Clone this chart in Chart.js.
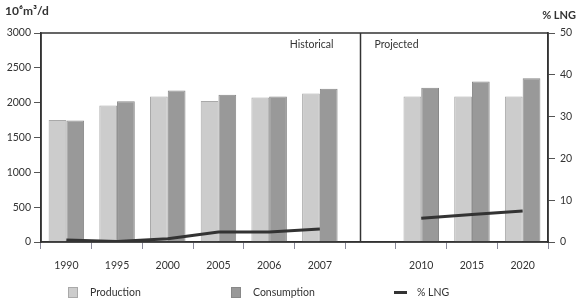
<!DOCTYPE html>
<html>
<head>
<meta charset="utf-8">
<script src="https://cdn.jsdelivr.net/npm/chart.js@4.4.1/dist/chart.umd.min.js"></script>
<style>
  body { margin: 0; background: #fff; }
  #wrap { position: relative; width: 580px; height: 306px; }
  #legend { position: absolute; left: 68px; top: 286px; display: flex; font: 10.5px Lato, sans-serif; color: #333; }
  #legend .item { width: 163px; display: flex; align-items: center; }
  #legend .sw { display: inline-block; margin-right: 12px; box-sizing: border-box; }
</style>
</head>
<body>
<div id="wrap">
  <canvas id="graphique" width="580" height="306"></canvas>
  <div id="legend"></div>
</div>
<script>
// --- data ---
const years = ["1990", "1995", "2000", "2005", "2006", "2007", "", "2010", "2015", "2020"];
const production = [1750, 1960, 2090, 2025, 2075, 2130, null, 2090, 2090, 2090];
const consumption = [1745, 2020, 2175, 2115, 2090, 2200, null, 2215, 2305, 2350];
const lngShare = [0.5, 0.1, 0.8, 2.4, 2.4, 3.1, null, 5.7, 6.6, 7.4];

const FONT = "Lato, sans-serif";
const INK = "#333";

// frame, divider and the loose texts
const framePlugin = {
  id: "frame",
  afterDraw(chart) {
    const { ctx, chartArea: a, scales } = chart;
    const x = scales.x;
    const p5 = x.getPixelForValue(5), p6 = x.getPixelForValue(6);
    const divider = Math.round((p5 + p6) / 2 + 0.3 * (p6 - p5)) + 0.5;

    ctx.save();
    ctx.strokeStyle = INK;
    ctx.lineWidth = 1.5;
    ctx.strokeRect(a.left, a.top, a.right - a.left, a.bottom - a.top);
    ctx.beginPath();
    ctx.moveTo(divider, a.top);
    ctx.lineTo(divider, a.bottom);
    ctx.stroke();

    ctx.fillStyle = INK;
    ctx.font = "10.5px " + FONT;
    ctx.textBaseline = "middle";
    ctx.textAlign = "right";
    ctx.fillText("Historical", divider - 27, a.top + 12);
    ctx.textAlign = "left";
    ctx.fillText("Projected", divider + 14, a.top + 12);

    ctx.font = "bold 12px " + FONT;
    ctx.textBaseline = "alphabetic";
    ctx.textAlign = "left";
    ctx.fillText("10\u2076m\u00B3/d", 5, a.top - 18);
    ctx.font = "bold 11px " + FONT;
    ctx.textAlign = "right";
    ctx.fillText("% LNG", chart.width - 4, a.top - 14);
    ctx.restore();
  }
};

function createChart() {
  const ctx = document.getElementById("graphique");

  const chart = new Chart(ctx, {
    data: {
      labels: years,
      datasets: [
        {
          type: "line",
          label: "% LNG",
          data: lngShare,
          yAxisID: "y1",
          borderColor: "#333",
          borderWidth: 3,
          pointRadius: 0,
          tension: 0,
          spanGaps: false,
          order: 0
        },
        {
          type: "bar",
          label: "Production",
          data: production,
          yAxisID: "y",
          backgroundColor: "#cccccc",
          borderColor: "#a9a9a9",
          borderWidth: 1,
          borderSkipped: "bottom",
          categoryPercentage: 0.7,
          barPercentage: 1.0,
          order: 1
        },
        {
          type: "bar",
          label: "Consumption",
          data: consumption,
          yAxisID: "y",
          backgroundColor: "#999999",
          borderColor: "#888888",
          borderWidth: 1,
          borderSkipped: "bottom",
          categoryPercentage: 0.7,
          barPercentage: 1.0,
          order: 1
        }
      ]
    },
    options: {
      responsive: false,
      animation: false,
      layout: { padding: { top: 33, left: 0, right: 0, bottom: 0 } },
      plugins: {
        legend: { display: false },
        tooltip: { enabled: false }
      },
      scales: {
        x: {
          offset: true,
          grid: { offset: true, drawOnChartArea: false, tickLength: 7, color: "#8a8a9a" },
          border: { display: true, color: INK, width: 1.5 },
          ticks: { color: INK, font: { family: FONT, size: 10.5 }, padding: 10, maxRotation: 0, autoSkip: false },
          afterFit(s) { s.height = 64; }
        },
        y: {
          position: "left",
          min: 0, max: 3000,
          ticks: {
            stepSize: 500, color: INK, font: { family: FONT, size: 10.5 }, padding: 3,
            callback: v => String(v)
          },
          grid: { drawOnChartArea: false, tickLength: 7, color: "#555" },
          border: { display: true, color: INK, width: 1.5 },
          afterFit(s) { s.width = 41; }
        },
        y1: {
          position: "right",
          min: 0, max: 50,
          ticks: { stepSize: 10, color: INK, font: { family: FONT, size: 10.5 }, padding: 5 },
          grid: { drawOnChartArea: false, tickLength: 7, color: "#555" },
          border: { display: true, color: INK, width: 1.5 },
          afterFit(s) { s.width = 32; }
        }
      }
    },
    plugins: [framePlugin]
  });

  // html legend, built from the chart's datasets
  const legend = document.getElementById("legend");
  ["Production", "Consumption", "% LNG"].forEach(name => {
    const ds = chart.data.datasets.find(d => d.label === name);
    const item = document.createElement("span");
    item.className = "item";
    const sw = document.createElement("span");
    sw.className = "sw";
    if (ds.type === "line") {
      sw.style.width = "13px";
      sw.style.height = "3px";
      sw.style.background = ds.borderColor;
      sw.style.marginRight = "10px";
    } else {
      sw.style.width = "10px";
      sw.style.height = "11px";
      sw.style.background = ds.backgroundColor;
      sw.style.border = "1px solid " + ds.borderColor;
    }
    item.appendChild(sw);
    item.appendChild(document.createTextNode(name));
    legend.appendChild(item);
  });
}

document.addEventListener("DOMContentLoaded", createChart);
</script>
</body>
</html>
